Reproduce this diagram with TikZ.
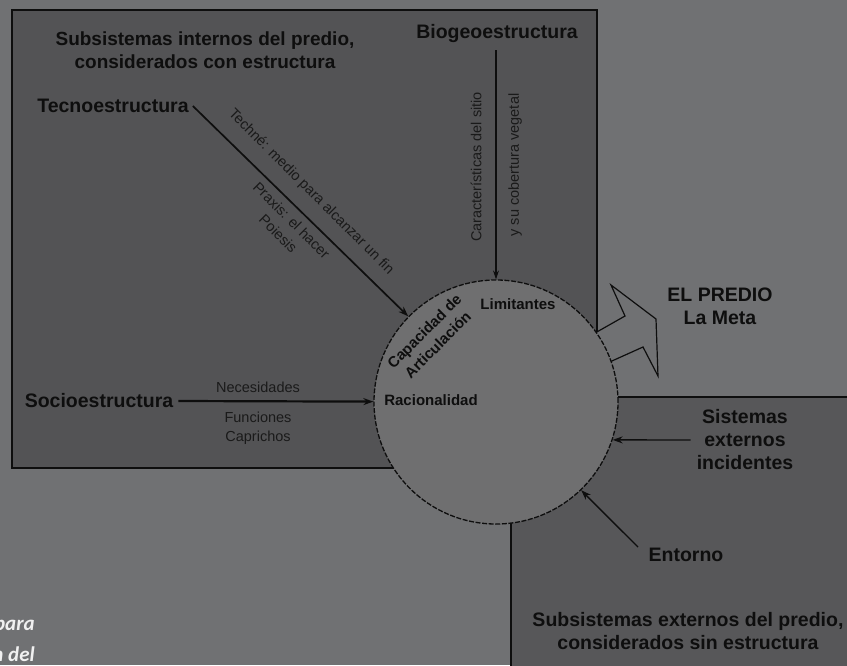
\documentclass[tikz,border=0pt]{standalone}
\usepackage{fontspec}
\setmainfont{Liberation Sans}
\newfontfamily\capfont{Carlito}
\usetikzlibrary{arrows.meta}
\definecolor{bgc}{RGB}{112,113,115}
\definecolor{boxa}{RGB}{83,83,85}
\definecolor{boxb}{RGB}{87,87,89}
\definecolor{circc}{RGB}{111,111,112}
\definecolor{ink}{RGB}{14,14,14}
\definecolor{smallink}{RGB}{26,26,26}
\definecolor{captxt}{RGB}{240,240,240}
\begin{document}
\begin{tikzpicture}[x=1pt,y=-1pt,
  big/.style={font=\fontsize{19.5}{23}\selectfont\bfseries, text=ink, align=center, inner sep=0pt},
  small/.style={font=\fontsize{14.5}{19}\selectfont, text=smallink, align=center, inner sep=0pt},
  inb/.style={font=\fontsize{15}{19}\selectfont\bfseries, text=ink, align=center, inner sep=0pt},
  frame/.style={draw=ink, line width=1.6pt},
  conn/.style={draw=ink, line width=1.7pt, -{Stealth[length=10pt,width=7pt]}},
  thinconn/.style={draw=ink, line width=1.1pt, -{Stealth[length=9pt,width=6pt]}},
  capt/.style={font=\capfont\fontsize{21}{25}\selectfont\bfseries\itshape, text=captxt,
      anchor=east, inner sep=0pt},
]
\fill[bgc] (0,0) rectangle (847,665);
\useasboundingbox (0,0) rectangle (847,665);
\clip (0,0) rectangle (847,665);

% boxes
\path[frame, fill=boxa] (12,10) rectangle (597,468);
\path[frame, fill=boxb] (511,397) rectangle (870,690);

% goal arrow
\path[draw=ink, line width=1.2pt, fill=bgc]
  (588,337) -- (625,316) -- (611,285) -- (656,319) -- (658,376)
  -- (643,347) -- (603,365) -- cycle;

% central circle
\node[circle, draw=ink, fill=circc, dash pattern=on 5pt off 1.6pt, line width=1.3pt,
      minimum size=244pt, inner sep=0pt] (pred) at (496,402) {};

% headings
\node[big, font=\fontsize{19}{23}\selectfont\bfseries] (inttitle) at (205,50) {Subsistemas internos del predio,\\considerados con estructura};
\node[big] (bio) at (497,33) {Biogeoestructura};
\node[big, inner sep=4pt] (tec) at (113,106) {Tecnoestructura};
\node[big, inner sep=5pt] (soc) at (99,401) {Socioestructura};
\node[big] (meta) at (720,306) {EL PREDIO\\La Meta};
\node[big, inner sep=6pt] (sis) at (745,440) {Sistemas\\externos\\incidentes};
\node[big] (ent) at (686,555) {Entorno};
\node[big] (exttitle) at (688,631) {Subsistemas externos del predio,\\considerados sin estructura};

% labels inside circle
\node[inb, rotate=45] (cap) at (431,338) {Capacidad de\\Articulación};
\node[inb] (lim) at (518,304) {Limitantes};
\node[inb] (rac) at (431,400) {Racionalidad};

% connectors
\coordinate (bioS) at (496,50);
\draw[thinconn] (bioS) -- (pred.north);
\draw[conn] (tec.east) -- (pred);
\draw[conn, line width=2.2pt] (soc.east) -- (pred);
\draw[conn, line width=1.4pt] (sis.west) -- (pred.-18);
\coordinate (entS) at (638,547);
\draw[conn, line width=1.4pt] (entS) -- (pred.-46);

% connector labels
\node[small, rotate=-45] (techne) at (311,192) {Techné: medio para alcanzar un fin};
\node[small, rotate=-45] (praxis) at (285,227) {Praxis: el hacer\\Poiesis};
\node[small, rotate=90] (caract) at (476,167) {Características del sitio};
\node[small, rotate=90] (cobert) at (515,165) {y su cobertura vegetal};
\node[small] (nec) at (258,387) {Necesidades};
\node[small] (fun) at (258,417) {Funciones};
\node[small] (capr) at (258,438) {Caprichos};

% cut-off caption fragment
\node[capt] (capa) at (35,627) {para};
\node[capt] (capb) at (35,654) {n del};
\end{tikzpicture}
\end{document}
